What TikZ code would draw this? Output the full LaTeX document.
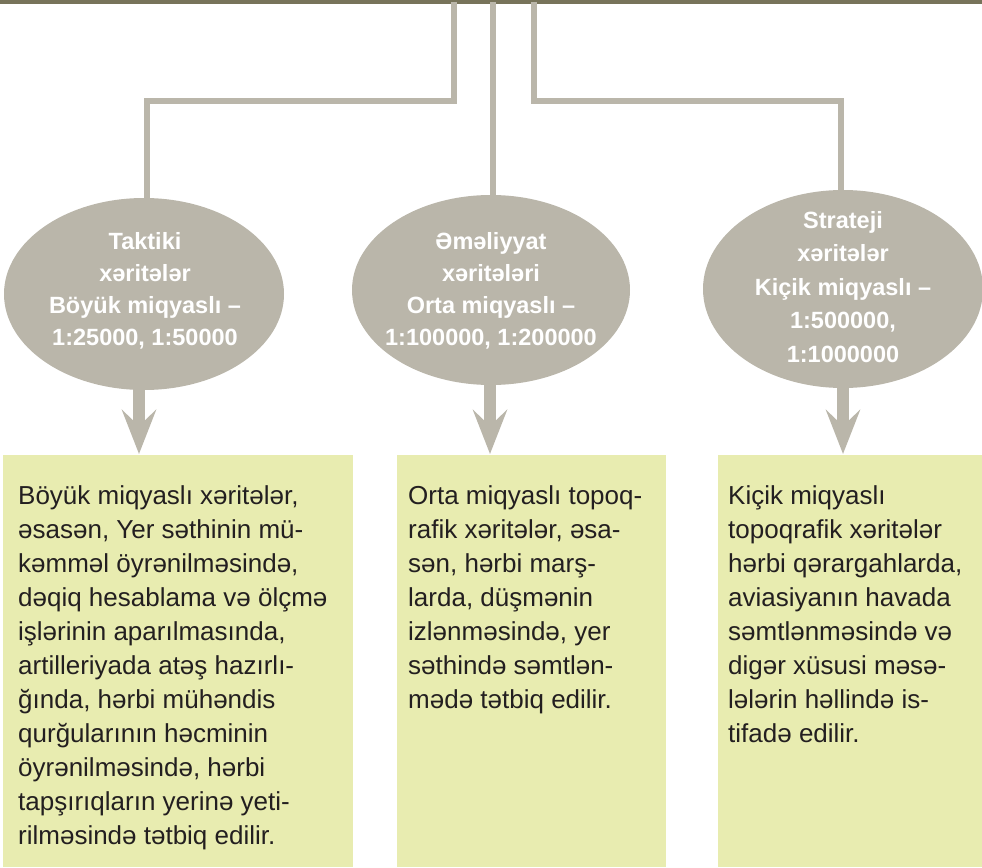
\documentclass[tikz,border=0pt]{standalone}
\usepackage{fontspec}
\setmainfont{Liberation Sans}
\usetikzlibrary{arrows.meta,shapes.geometric}
\definecolor{barcol}{HTML}{77735A}
\definecolor{conncol}{HTML}{BAB6AA}
\definecolor{boxcol}{HTML}{E8ECB0}
\definecolor{inkcol}{HTML}{231F20}
\begin{document}
\begin{tikzpicture}[x=1pt,y=-1pt,
  connline/.style={draw=conncol, line width=6pt},
  ellshape/.style={ellipse, fill=conncol, inner sep=0pt},
  elltext/.style={inner sep=0pt, text=white, align=center,
    font=\bfseries\fontsize{23.5}{32}\selectfont},
  infobox/.style={fill=boxcol, inner sep=0pt, anchor=north west, minimum height=412pt},
  infotext/.style={anchor=base west, align=left, inner sep=0pt, text=inkcol,
    font=\fontsize{26}{34}\selectfont},
  downarrow/.style={draw=conncol, line width=12pt,
    -{Stealth[length=44pt, width=34pt, inset=16pt]}}]
\useasboundingbox (0,0) rectangle (982,867);

% top bar
\node[fill=barcol, inner sep=0pt, anchor=north west, minimum width=982pt, minimum height=4pt] (topbar) at (0,0) {};

% connector coordinates
\coordinate (s1) at (454,2);
\coordinate (k1) at (147,101);
\coordinate (d1) at (147,230);
\coordinate (s2) at (493,2);
\coordinate (d2) at (493,230);
\coordinate (s3) at (534,2);
\coordinate (k3) at (841,101);
\coordinate (d3) at (841,230);

\draw[connline] (s1) |- (k1) -- (d1);
\draw[connline] (s2) -- (d2);
\draw[connline] (s3) |- (k3) -- (d3);

% arrows (drawn before ellipses so they start under them)
\coordinate (a1) at (139,370);
\coordinate (p1) at (139,454);
\coordinate (a2) at (490,370);
\coordinate (p2) at (490,454);
\coordinate (a3) at (843,370);
\coordinate (p3) at (843,454);
\draw[downarrow] (a1) -- (p1);
\draw[downarrow] (a2) -- (p2);
\draw[downarrow] (a3) -- (p3);

% ellipses
\node[ellshape, minimum width=280pt, minimum height=192pt] (e1) at (144,294) {};
\node[ellshape, minimum width=278pt, minimum height=190pt] (e2) at (491,290) {};
\node[ellshape, minimum width=280pt, minimum height=198pt] (e3) at (843,289) {};

\node[elltext] (et1) at (145,291) {Taktiki\\xəritələr\\Böyük miqyaslı –\\1:25000, 1:50000};
\node[elltext] (et2) at (491,291) {Əməliyyat\\xəritələri\\Orta miqyaslı –\\1:100000, 1:200000};
\node[elltext, font=\bfseries\fontsize{23.5}{33.5}\selectfont] (et3) at (843,287) {Strateji\\xəritələr\\Kiçik miqyaslı –\\1:500000,\\1:1000000};

% boxes
\node[infobox, minimum width=350pt] (b1) at (3,455) {};
\node[infobox, minimum width=269pt] (b2) at (397,455) {};
\node[infobox, minimum width=264pt] (b3) at (718,455) {};

% text (base anchor = baseline of the last line)
\node[infotext] (bt1) at (18,844) {Böyük miqyaslı xəritələr,\\əsasən, Yer səthinin mü-\\kəmməl öyrənilməsində,\\dəqiq hesablama və ölçmə\\işlərinin aparılmasında,\\artilleriyada atəş hazırlı-\\ğında, hərbi mühəndis\\qurğularının həcminin\\öyrənilməsində, hərbi\\tapşırıqların yerinə yeti-\\rilməsində tətbiq edilir.};
\node[infotext] (bt2) at (408,708) {Orta miqyaslı topoq-\\rafik xəritələr, əsa-\\sən, hərbi marş-\\larda, düşmənin\\izlənməsində, yer\\səthində səmtlən-\\mədə tətbiq edilir.};
\node[infotext] (bt3) at (728,742) {Kiçik miqyaslı\\topoqrafik xəritələr\\hərbi qərargahlarda,\\aviasiyanın havada\\səmtlənməsində və\\digər xüsusi məsə-\\lələrin həllində is-\\tifadə edilir.};
\end{tikzpicture}
\end{document}
